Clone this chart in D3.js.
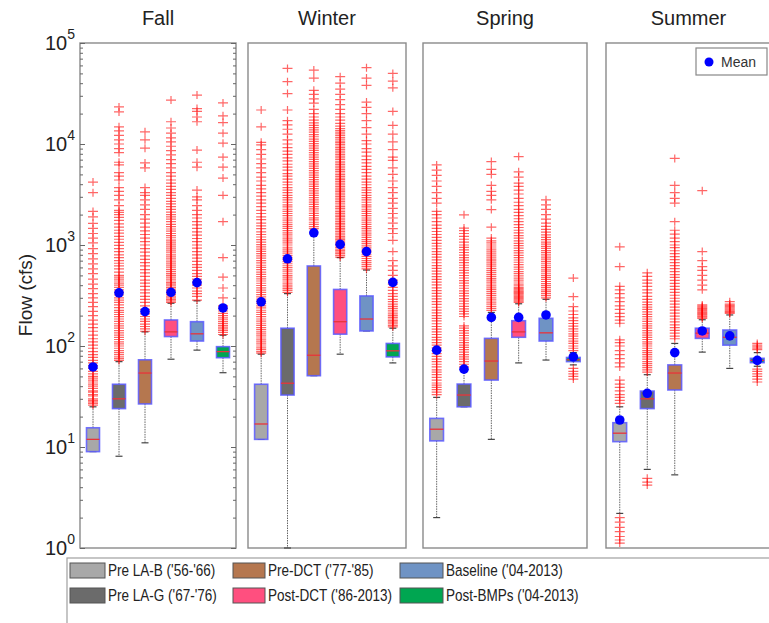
<!DOCTYPE html>
<html>
<head>
<meta charset="utf-8">
<script src="https://cdn.jsdelivr.net/npm/d3@7"></script>
<style>
  body { margin: 0; background: #fff; }
  svg { display: block; font-family: "Liberation Sans", Arial, sans-serif; }
</style>
</head>
<body>
<svg id="chart" width="769" height="623"></svg>
<script>
// Seasons (panels) and monitoring periods (boxes within each panel)
const seasons = ["Fall", "Winter", "Spring", "Summer"];
const periods = ["Pre LA-B ('56-'66)", "Pre LA-G ('67-'76)", "Pre-DCT ('77-'85)",
                 "Post-DCT ('86-2013)", "Baseline ('04-2013)", "Post-BMPs ('04-2013)"];
const periodColors = ["#a8a8a8", "#6b6b6b", "#b5774f", "#ff4f7f", "#6f93c4", "#00a651"];

// Box statistics in cfs, one row per season, one column per period
const whiskerLow = [
  [9.0, 8.1, 11, 74, 91, 54.4],
  [11.9, 1.0, 50.8, 83, 141, 68],
  [2.0, 25, 11.9, 68, 72.6, 65],
  [2.2, 6.0, 5.3, 87, 60, 63]
];
const q1 = [
  [9.0, 24, 26.7, 124, 112, 76.6],
  [11.9, 32.7, 50.8, 131, 141, 78],
  [11.5, 25, 46, 122, 112, 70],
  [11.3, 24, 36.7, 119, 102, 68.4]
];
const median = [
  [11.9, 30, 54, 138, 132, 88],
  [16.9, 42.8, 81, 174, 185, 89.6],
  [15, 32.7, 71, 138, 135, 73],
  [13.7, 30, 54, 134, 122, 72]
];
const q3 = [
  [15.5, 41.8, 73, 181, 174, 98.5],
  [41.8, 150, 620, 363, 313, 106],
  [19.2, 42, 119, 178, 188, 77],
  [17.4, 35.8, 65, 150, 144, 75.5]
];
const whiskerHigh = [
  [25, 70, 138, 265, 280, 128],
  [83, 330, 1400, 750, 565, 150],
  [31, 58, 215, 262, 290, 86],
  [25, 52, 106, 182, 203, 86]
];
const meanFlow = [
  [62, 336, 219, 340, 424, 238],
  [274, 730, 1320, 1015, 860, 427],
  [91, 59, 192, 192, 203, 78],
  [18.5, 34, 86, 141, 126, 72]
];

// Outlying daily flows (cfs) per season and period
const outliersFall = [
  [26, 27, 28, 29, 30, 32, 33, 35, 36, 38, 40, 42, 44, 46, 48, 50, 53, 56, 60, 64, 68, 72, 77, 82, 88, 95, 102, 110, 118, 128, 140, 152, 165, 180, 200, 220, 245, 270, 300, 330, 370, 410, 460, 520, 580, 650, 730, 820, 920, 1050, 1170, 1300, 1460, 1640, 1900, 2150, 3300, 4200],
  [72, 75, 78, 82, 86, 90, 95, 100, 105, 110, 116, 122, 128, 135, 142, 150, 158, 166, 175, 185, 195, 205, 215, 225, 240, 255, 270, 285, 300, 320, 340, 360, 380, 400, 420, 440, 460, 480, 500, 540, 580, 620, 660, 700, 750, 800, 860, 920, 990, 1060, 1140, 1220, 1310, 1400, 1500, 1620, 1750, 1880, 2000, 2100, 2200, 2450, 2800, 3100, 3400, 3700, 4400, 4800, 5200, 6200, 6600, 8200, 9000, 10000, 11000, 12200, 13500, 14800, 20800, 23300],
  [140, 148, 156, 165, 175, 185, 196, 208, 230, 250, 270, 290, 310, 335, 360, 390, 420, 450, 490, 530, 570, 620, 670, 720, 780, 850, 920, 1000, 1080, 1170, 1270, 1380, 1500, 1650, 1800, 2000, 2250, 2500, 2800, 3100, 3300, 3700, 5800, 6500, 9100, 11000, 13200],
  [270, 280, 290, 300, 312, 325, 338, 352, 366, 380, 395, 410, 425, 440, 460, 480, 500, 520, 545, 570, 595, 620, 650, 680, 710, 740, 775, 810, 850, 890, 930, 975, 1020, 1070, 1120, 1180, 1240, 1300, 1370, 1440, 1520, 1600, 1700, 1800, 1900, 2000, 2120, 2250, 2400, 2550, 2700, 2900, 3100, 3300, 3550, 3800, 4100, 4400, 4800, 5200, 5800, 6400, 7000, 7800, 8600, 9500, 10500, 11500, 12800, 14400, 16600, 27200],
  [285, 310, 330, 350, 375, 400, 430, 460, 490, 520, 560, 600, 640, 690, 740, 800, 860, 930, 1000, 1080, 1160, 1250, 1350, 1460, 1580, 1700, 1850, 2000, 2200, 2450, 2800, 3000, 3500, 5900, 6600, 8700, 16600, 18500, 21000, 22400, 30500],
  [130, 136, 142, 148, 154, 160, 167, 174, 182, 190, 200, 210, 222, 235, 250, 300, 375, 480, 750, 1700, 3100, 4600, 5900, 7400, 10200, 12800, 16300, 19000, 25500]
];
const outliersWinter = [
  [85, 88, 92, 96, 100, 105, 110, 115, 120, 126, 132, 138, 145, 152, 160, 168, 176, 185, 195, 205, 215, 226, 238, 250, 263, 277, 291, 306, 322, 340, 358, 377, 397, 418, 440, 463, 487, 513, 540, 570, 600, 630, 665, 700, 740, 780, 820, 865, 910, 960, 1010, 1070, 1130, 1200, 1270, 1350, 1450, 1550, 1650, 1780, 1900, 2050, 2200, 2400, 2600, 2800, 3050, 3300, 3600, 3900, 4300, 4700, 5200, 5800, 6400, 7100, 7900, 8800, 9800, 10400, 14800, 21700],
  [340, 355, 370, 385, 400, 420, 440, 460, 480, 500, 525, 550, 575, 600, 630, 660, 690, 720, 755, 790, 830, 870, 910, 950, 1000, 1050, 1100, 1150, 1200, 1260, 1320, 1390, 1460, 1530, 1600, 1680, 1760, 1850, 1950, 2050, 2150, 2260, 2380, 2500, 2650, 2800, 2950, 3100, 3300, 3500, 3700, 3950, 4200, 4500, 4800, 5100, 5500, 5900, 6300, 6800, 7300, 7900, 8500, 9200, 10000, 11000, 12500, 14000, 15500, 17000, 21700, 31600, 41400, 56000],
  [1450, 1520, 1600, 1680, 1770, 1860, 1960, 2060, 2170, 2280, 2400, 2530, 2660, 2800, 2950, 3100, 3270, 3440, 3620, 3810, 4010, 4220, 4440, 4670, 4920, 5180, 5450, 5740, 6040, 6360, 6700, 7050, 7420, 7810, 8220, 8650, 9100, 9600, 10100, 10600, 11200, 11800, 12400, 13100, 13800, 14500, 15300, 16200, 17200, 18500, 20000, 22000, 25400, 28000, 31000, 34000, 45000, 54000],
  [760, 790, 820, 850, 880, 910, 945, 980, 1015, 1050, 1090, 1130, 1170, 1210, 1260, 1310, 1360, 1410, 1460, 1520, 1580, 1640, 1700, 1770, 1840, 1910, 1980, 2060, 2140, 2220, 2310, 2400, 2490, 2590, 2690, 2800, 2910, 3020, 3140, 3260, 3390, 3520, 3660, 3800, 3950, 4100, 4260, 4430, 4600, 4780, 4970, 5160, 5360, 5570, 5790, 6020, 6250, 6500, 6750, 7020, 7290, 7580, 7880, 8190, 8510, 8840, 9190, 9550, 9920, 10300, 10700, 11200, 11600, 12100, 12600, 13100, 13600, 14200, 15000, 16000, 17200, 18500, 20000, 22000, 24500, 27500, 31000, 35000, 40000, 46400],
  [580, 610, 640, 670, 700, 735, 770, 810, 850, 890, 935, 980, 1030, 1080, 1130, 1190, 1250, 1310, 1380, 1450, 1520, 1600, 1680, 1760, 1850, 1950, 2050, 2150, 2260, 2380, 2500, 2650, 2800, 2950, 3100, 3300, 3500, 3700, 3950, 4200, 4500, 4800, 5200, 5600, 6000, 6500, 7000, 7600, 8300, 9000, 10000, 10800, 12500, 14500, 17000, 20000, 23000, 26000, 38000, 45000, 57000],
  [155, 160, 166, 172, 178, 185, 192, 200, 208, 217, 226, 236, 247, 260, 275, 290, 310, 330, 355, 380, 410, 450, 500, 560, 620, 700, 860, 1110, 1300, 1450, 1650, 1850, 2050, 2300, 2600, 2900, 3300, 3700, 4300, 5000, 5800, 6900, 7400, 8800, 10500, 12500, 15300, 21000, 36000, 42000, 50000]
];
const outliersSpring = [
  [33, 35, 37, 39, 41, 43, 46, 49, 52, 55, 58, 62, 66, 70, 74, 79, 84, 90, 96, 102, 108, 115, 122, 130, 138, 147, 156, 166, 177, 188, 200, 213, 227, 242, 258, 275, 293, 312, 332, 354, 377, 402, 428, 456, 486, 518, 552, 588, 626, 667, 711, 758, 808, 861, 918, 978, 1040, 1110, 1190, 1270, 1360, 1460, 1570, 1700, 1850, 2000, 2150, 2600, 2900, 3300, 3800, 4300, 4900, 5500, 6200],
  [62, 66, 70, 74, 78, 82, 87, 92, 97, 102, 108, 114, 120, 127, 134, 142, 150, 158, 196, 208, 220, 233, 247, 262, 278, 295, 313, 332, 352, 373, 395, 419, 444, 471, 499, 529, 561, 595, 630, 668, 708, 750, 795, 843, 893, 947, 1000, 1070, 1140, 1220, 1300, 1390, 1470, 1990],
  [225, 235, 245, 256, 267, 279, 291, 304, 317, 331, 346, 361, 377, 394, 411, 429, 448, 468, 489, 511, 534, 558, 583, 609, 636, 665, 695, 726, 760, 795, 830, 870, 910, 955, 1000, 1050, 1100, 1170, 1500, 2240, 2800, 3100, 3400, 3900, 5000, 5600, 6700],
  [270, 278, 286, 294, 302, 310, 318, 326, 334, 342, 350, 360, 370, 380, 395, 410, 430, 450, 470, 495, 520, 545, 575, 605, 640, 675, 710, 750, 790, 835, 880, 930, 985, 1040, 1100, 1170, 1240, 1320, 1400, 1490, 1590, 1700, 1820, 1950, 2100, 2250, 2450, 2650, 2900, 3200, 3500, 3800, 4100, 4700, 5300, 7500],
  [300, 315, 330, 345, 360, 378, 396, 415, 435, 456, 478, 500, 525, 550, 575, 600, 630, 660, 690, 725, 760, 800, 840, 880, 925, 970, 1020, 1070, 1130, 1190, 1260, 1340, 1430, 1530, 1650, 1800, 2000, 2250, 2500, 2800],
  [47, 50, 53, 56, 60, 90, 95, 100, 106, 112, 118, 125, 132, 140, 148, 157, 167, 178, 190, 205, 222, 245, 308, 470]
];
const outliersSummer = [
  [1.12, 1.2, 1.3, 1.45, 1.6, 1.8, 2.0, 27, 29, 31, 33, 36, 39, 42, 46, 62, 68, 75, 82, 90, 100, 108, 115, 168, 180, 195, 210, 230, 250, 275, 300, 330, 360, 390, 610, 960],
  [4.2, 4.5, 4.9, 55, 58, 61, 64, 67, 70, 74, 78, 82, 86, 90, 95, 100, 105, 110, 116, 122, 128, 135, 142, 150, 158, 166, 175, 185, 195, 206, 218, 230, 243, 257, 272, 290, 310, 335, 360, 390, 420, 450, 490, 530],
  [118, 125, 134, 143, 152, 162, 173, 185, 198, 212, 227, 243, 260, 278, 297, 318, 340, 364, 390, 417, 446, 477, 510, 546, 584, 625, 669, 716, 766, 820, 877, 940, 1000, 1080, 1170, 1280, 1400, 1700, 2600, 2900, 3300, 3900, 7200],
  [188, 193, 198, 203, 208, 213, 218, 224, 230, 236, 242, 248, 255, 360, 400, 450, 500, 560, 610, 700, 860, 3450],
  [210, 215, 220, 226, 232, 238, 245, 252, 260, 275],
  [44, 47, 50, 53, 56, 59, 92, 95, 98, 102, 106]
];
const outliers = [outliersFall, outliersWinter, outliersSpring, outliersSummer];

// ---- layout ----
const svg = d3.select("#chart");
const plotTop = 43, plotBottom = 548;
const panelEdges = [[80, 236], [248, 406], [423, 587], [606, 771]];

const y = d3.scaleLog().domain([1, 1e5]).range([plotBottom, plotTop]);
const decades = [1, 10, 100, 1000, 10000, 100000];
const minors = [];
decades.slice(0, -1).forEach(d => { for (let k = 2; k <= 9; k++) minors.push(d * k); });

const crossPath = "M-5,0H5M0,-4V4";

seasons.forEach((season, s) => {
  const [x0, x1] = panelEdges[s];
  const x = d3.scalePoint().domain(periods).range([x0, x1]).padding(0.5);
  const bw = x.step() * 0.5;
  const g = svg.append("g").attr("class", "panel");

  // frame
  g.append("rect").attr("x", x0).attr("y", plotTop).attr("width", x1 - x0).attr("height", plotBottom - plotTop)
    .attr("fill", "#fff").attr("stroke", "#8a8a8a").attr("stroke-width", 1.4);

  // season title
  svg.append("text").attr("x", (x0 + x1) / 2).attr("y", 25).attr("text-anchor", "middle")
    .attr("font-size", 20).attr("fill", "#222").text(season);

  const rows = periods.map((p, i) => ({
    p, i,
    lo: whiskerLow[s][i], q1: q1[s][i], med: median[s][i], q3: q3[s][i],
    hi: whiskerHigh[s][i], mean: meanFlow[s][i], out: outliers[s][i]
  }));

  // whiskers
  const wg = g.append("g");
  rows.forEach(r => {
    const cx = x(r.p);
    wg.append("line").attr("x1", cx).attr("x2", cx).attr("y1", y(r.q3)).attr("y2", y(r.hi))
      .attr("stroke", "#666").attr("stroke-width", 1).attr("stroke-dasharray", "1.5,1");
    wg.append("line").attr("x1", cx).attr("x2", cx).attr("y1", y(r.q1)).attr("y2", y(r.lo))
      .attr("stroke", "#666").attr("stroke-width", 1).attr("stroke-dasharray", "1.5,1");
    [r.lo, r.hi].forEach(v => {
      wg.append("line").attr("x1", cx - 3.5).attr("x2", cx + 3.5).attr("y1", y(v)).attr("y2", y(v))
        .attr("stroke", "#444").attr("stroke-width", 1.2);
    });
  });

  // boxes
  g.append("g").selectAll("rect").data(rows).join("rect")
    .attr("x", d => x(d.p) - bw / 2).attr("width", bw)
    .attr("y", d => y(d.q3)).attr("height", d => y(d.q1) - y(d.q3))
    .attr("fill", d => periodColors[d.i])
    .attr("stroke", "#5a5aff").attr("stroke-opacity", 0.85).attr("stroke-width", 1.6);

  // medians
  g.append("g").selectAll("line").data(rows).join("line")
    .attr("x1", d => x(d.p) - bw / 2).attr("x2", d => x(d.p) + bw / 2)
    .attr("y1", d => y(d.med)).attr("y2", d => y(d.med))
    .attr("stroke", "#e8343a").attr("stroke-width", 1.3);

  // outliers
  const og = g.append("g");
  rows.forEach(r => {
    og.append("g").selectAll("path").data(r.out).join("path")
      .attr("d", crossPath)
      .attr("transform", v => `translate(${x(r.p)},${y(v)})`)
      .attr("stroke", "#ff0000").attr("stroke-opacity", 0.6).attr("stroke-width", 1.2)
      .attr("fill", "none");
  });

  // means
  g.append("g").selectAll("circle").data(rows).join("circle")
    .attr("cx", d => x(d.p)).attr("cy", d => y(d.mean)).attr("r", 4.8)
    .attr("fill", "#0000ff");
});

// y-axis ticks on the first panel (both sides, pointing inward)
const [ax0, ax1] = panelEdges[0];
[[d3.axisRight, ax0], [d3.axisLeft, ax1]].forEach(([axisFn, xPos]) => {
  const gMaj = svg.append("g").attr("transform", `translate(${xPos},0)`)
    .call(axisFn(y).tickValues(decades).tickSize(5).tickFormat(""));
  const gMin = svg.append("g").attr("transform", `translate(${xPos},0)`)
    .call(axisFn(y).tickValues(minors).tickSize(3).tickFormat(""));
  [gMaj, gMin].forEach(gg => {
    gg.select(".domain").remove();
    gg.selectAll(".tick line").attr("stroke", "#666").attr("stroke-width", 1);
  });
});

// tick labels as powers of ten
const labelAxis = svg.append("g").attr("transform", `translate(${ax0},0)`)
  .call(d3.axisLeft(y).tickValues(decades).tickSize(0).tickPadding(5).tickFormat(() => "10"));
labelAxis.select(".domain").remove();
labelAxis.selectAll(".tick text")
  .attr("font-size", 20).attr("font-family", "Liberation Sans, Arial, sans-serif")
  .attr("fill", "#222")
  .attr("dy", "0.3em")
  .append("tspan").attr("font-size", 14).attr("dy", "-0.75em")
  .text(d => Math.round(Math.log10(d)));

// y-axis title
svg.append("text").attr("transform", "translate(25,295) rotate(-90)")
  .attr("text-anchor", "middle").attr("dominant-baseline", "central")
  .attr("font-size", 19).attr("fill", "#222").text("Flow (cfs)");

// mean legend inside the last panel
const mg = svg.append("g");
mg.append("rect").attr("x", 696).attr("y", 48).attr("width", 71).attr("height", 27)
  .attr("fill", "#fff").attr("stroke", "#888").attr("stroke-width", 1.2);
mg.append("circle").attr("cx", 709).attr("cy", 62).attr("r", 4.5).attr("fill", "#0000ff");
mg.append("text").attr("x", 721).attr("y", 67).attr("font-size", 14).attr("fill", "#333").text("Mean");

// period legend along the bottom (condensed lettering)
const lg = svg.append("g");
lg.append("rect").attr("x", 67).attr("y", 558).attr("width", 712).attr("height", 80)
  .attr("fill", "#fff").attr("stroke", "#a0a0a0").attr("stroke-width", 1.2);
const legendCols = [[70, 35], [233, 32], [400, 43]];
const condense = 0.82;
periods.forEach((p, i) => {
  const col = Math.floor(i / 2), row = i % 2;
  const [sx, sw] = legendCols[col];
  const yy = 563 + row * 25;
  lg.append("rect").attr("x", sx).attr("y", yy).attr("width", sw).attr("height", 15)
    .attr("fill", periodColors[i]).attr("stroke", "#555").attr("stroke-width", 1);
  lg.append("text")
    .attr("transform", `translate(${sx + sw + 3},${yy + 13}) scale(${condense},1)`)
    .attr("font-family", "Liberation Sans, Arial, sans-serif")
    .attr("font-size", 16.5).attr("fill", "#222").text(p);
});
</script>
</body>
</html>
